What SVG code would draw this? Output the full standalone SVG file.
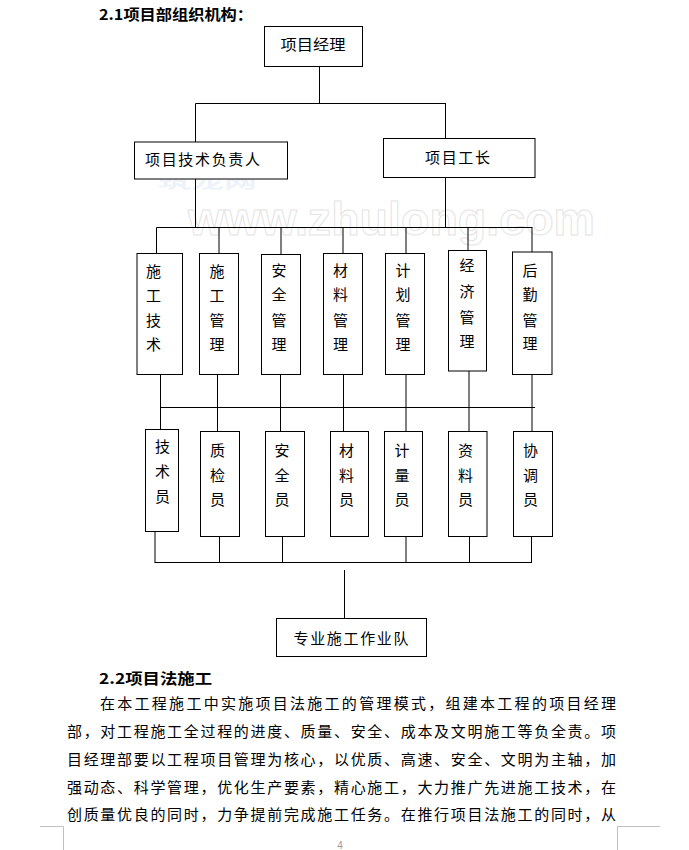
<svg xmlns="http://www.w3.org/2000/svg" width="689" height="850" viewBox="0 0 689 850">
<style>
  .bg { fill: #ffffff; }
  .box { fill: #ffffff; stroke: #000000; stroke-width: 1; }
  .ln { stroke: #000000; stroke-width: 1; fill: none; }
  .t { font-family: "Noto Sans CJK SC", "Liberation Sans", sans-serif; font-size: 15px; fill: #000000; }
  .c { text-anchor: middle; dominant-baseline: central; }
  .h { font-family: "Noto Sans CJK SC", "Liberation Sans", sans-serif; font-size: 15px; font-weight: bold; fill: #000000; dominant-baseline: central; }
  .p { font-family: "Noto Sans CJK SC", "Liberation Sans", sans-serif; font-size: 15px; fill: #000000; dominant-baseline: central; }
  .wm1 { font-family: "Liberation Sans", sans-serif; font-size: 46px; font-weight: bold; fill: #ffffff; stroke: #e4e4e4; stroke-width: 1; }
  .wm2 { font-family: "Noto Sans CJK SC", sans-serif; font-size: 16px; font-weight: bold; fill: #eef3f9; }
  .mark { stroke: #c0c0c0; stroke-width: 1; fill: none; }
</style>
<rect class="bg" x="0" y="0" width="689" height="850"/>

<g id="watermark">
  <text class="wm2" x="158" y="188" textLength="99" lengthAdjust="spacingAndGlyphs">筑龙网</text>
  <text class="wm1" x="188" y="235" textLength="407" lengthAdjust="spacingAndGlyphs">www.zhulong.com</text>
</g>

<g id="heading1">
  <text class="h" x="99" y="13" textLength="154" lengthAdjust="spacingAndGlyphs">2.1项目部组织机构：</text>
</g>

<g id="connectors">
  <line class="ln" x1="319.5" y1="66" x2="319.5" y2="103.5"/>
  <line class="ln" x1="195.5" y1="103.5" x2="446" y2="103.5"/>
  <line class="ln" x1="195.5" y1="103.5" x2="195.5" y2="142"/>
  <line class="ln" x1="445.5" y1="103.5" x2="445.5" y2="138"/>
  <line class="ln" x1="195.5" y1="179" x2="195.5" y2="227.5"/>
  <line class="ln" x1="445.5" y1="177" x2="445.5" y2="227.5"/>
  <line class="ln" x1="156.5" y1="227.5" x2="532.5" y2="227.5"/>
  <line class="ln" x1="156.5" y1="227.5" x2="156.5" y2="253"/>
  <line class="ln" x1="219" y1="227.5" x2="219" y2="253"/>
  <line class="ln" x1="281" y1="227.5" x2="281" y2="254"/>
  <line class="ln" x1="343" y1="227.5" x2="343" y2="253"/>
  <line class="ln" x1="406" y1="227.5" x2="406" y2="253"/>
  <line class="ln" x1="468" y1="227.5" x2="468" y2="250"/>
  <line class="ln" x1="532" y1="227.5" x2="532" y2="252"/>
  <line class="ln" x1="160.5" y1="374" x2="160.5" y2="429"/>
  <line class="ln" x1="217.5" y1="374" x2="217.5" y2="432"/>
  <line class="ln" x1="280.5" y1="374" x2="280.5" y2="432"/>
  <line class="ln" x1="343.5" y1="374" x2="343.5" y2="432"/>
  <line class="ln" x1="406" y1="374" x2="406" y2="432"/>
  <line class="ln" x1="469" y1="371" x2="469" y2="432"/>
  <line class="ln" x1="532" y1="374" x2="532" y2="432"/>
  <line class="ln" x1="160.5" y1="407.5" x2="535" y2="407.5"/>
  <line class="ln" x1="155" y1="531" x2="155" y2="562.5"/>
  <line class="ln" x1="219.5" y1="536" x2="219.5" y2="562.5"/>
  <line class="ln" x1="282.5" y1="536" x2="282.5" y2="562.5"/>
  <line class="ln" x1="406" y1="536" x2="406" y2="562.5"/>
  <line class="ln" x1="469.5" y1="536" x2="469.5" y2="562.5"/>
  <line class="ln" x1="531.5" y1="536" x2="531.5" y2="562.5"/>
  <line class="ln" x1="154.5" y1="562.5" x2="532" y2="562.5"/>
  <line class="ln" x1="344.5" y1="570" x2="344.5" y2="618"/>
</g>

<g id="n-manager">
  <rect class="box" x="264.5" y="26.5" width="98" height="40"/>
  <text class="t c" x="313" y="43.5" textLength="65" lengthAdjust="spacingAndGlyphs">项目经理</text>
</g>
<g id="n-tech-lead">
  <rect class="box" x="134.5" y="142" width="153" height="37"/>
  <text class="t c" x="202.5" y="158.5" textLength="115" lengthAdjust="spacing">项目技术负责人</text>
</g>
<g id="n-foreman">
  <rect class="box" x="383.5" y="138.5" width="151.5" height="39"/>
  <text class="t c" x="457.5" y="156" textLength="65" lengthAdjust="spacing">项目工长</text>
</g>

<g id="n-sg-tech">
  <rect class="box" x="137" y="253.5" width="45.5" height="121"/>
  <text class="t c"><tspan x="153.5" y="269.5">施</tspan><tspan x="153.5" y="293.5">工</tspan><tspan x="153.5" y="319">技</tspan><tspan x="153.5" y="343">术</tspan></text>
</g>
<g id="n-sg-mgmt">
  <rect class="box" x="199.5" y="253.5" width="39" height="121"/>
  <text class="t c"><tspan x="217" y="269.5">施</tspan><tspan x="217" y="293.5">工</tspan><tspan x="217" y="319">管</tspan><tspan x="217" y="343">理</tspan></text>
</g>
<g id="n-safety-mgmt">
  <rect class="box" x="261.5" y="254.5" width="39" height="120"/>
  <text class="t c"><tspan x="279" y="268.5">安</tspan><tspan x="279" y="293">全</tspan><tspan x="279" y="319">管</tspan><tspan x="279" y="343">理</tspan></text>
</g>
<g id="n-material-mgmt">
  <rect class="box" x="323.5" y="253.5" width="39" height="121"/>
  <text class="t c"><tspan x="340.5" y="269">材</tspan><tspan x="340.5" y="293">料</tspan><tspan x="340.5" y="319">管</tspan><tspan x="340.5" y="343">理</tspan></text>
</g>
<g id="n-plan-mgmt">
  <rect class="box" x="385.5" y="253.5" width="39" height="121"/>
  <text class="t c"><tspan x="403" y="269">计</tspan><tspan x="403" y="293">划</tspan><tspan x="403" y="319">管</tspan><tspan x="403" y="343">理</tspan></text>
</g>
<g id="n-econ-mgmt">
  <rect class="box" x="448.5" y="250.5" width="38" height="120.5"/>
  <text class="t c"><tspan x="467" y="263.5">经</tspan><tspan x="467" y="290">济</tspan><tspan x="467" y="316">管</tspan><tspan x="467" y="340">理</tspan></text>
</g>
<g id="n-logistics-mgmt">
  <rect class="box" x="512.5" y="252" width="39.5" height="122.5"/>
  <text class="t c"><tspan x="530" y="269">后</tspan><tspan x="530" y="292.5">勤</tspan><tspan x="530" y="318.5">管</tspan><tspan x="530" y="342">理</tspan></text>
</g>

<g id="n-technician">
  <rect class="box" x="145.5" y="429.5" width="33" height="102"/>
  <text class="t c"><tspan x="162.5" y="445">技</tspan><tspan x="162.5" y="469.5">术</tspan><tspan x="162.5" y="495">员</tspan></text>
</g>
<g id="n-qc">
  <rect class="box" x="200.5" y="431.5" width="39" height="105"/>
  <text class="t c"><tspan x="217.5" y="448.5">质</tspan><tspan x="217.5" y="473.5">检</tspan><tspan x="217.5" y="497.5">员</tspan></text>
</g>
<g id="n-safety">
  <rect class="box" x="265.5" y="431.5" width="39" height="105"/>
  <text class="t c"><tspan x="282" y="448.5">安</tspan><tspan x="282" y="473.5">全</tspan><tspan x="282" y="497.5">员</tspan></text>
</g>
<g id="n-material">
  <rect class="box" x="330.5" y="431.5" width="38" height="105"/>
  <text class="t c"><tspan x="346.5" y="448.5">材</tspan><tspan x="346.5" y="473.5">料</tspan><tspan x="346.5" y="497.5">员</tspan></text>
</g>
<g id="n-metering">
  <rect class="box" x="384.5" y="431.5" width="38" height="105"/>
  <text class="t c"><tspan x="402" y="448.5">计</tspan><tspan x="402" y="473.5">量</tspan><tspan x="402" y="497.5">员</tspan></text>
</g>
<g id="n-docs">
  <rect class="box" x="448.5" y="431.5" width="38.5" height="105"/>
  <text class="t c"><tspan x="465.5" y="448.5">资</tspan><tspan x="465.5" y="473.5">料</tspan><tspan x="465.5" y="497.5">员</tspan></text>
</g>
<g id="n-coord">
  <rect class="box" x="513.5" y="431.5" width="39" height="105"/>
  <text class="t c"><tspan x="530.5" y="448.5">协</tspan><tspan x="530.5" y="473.5">调</tspan><tspan x="530.5" y="497.5">员</tspan></text>
</g>

<g id="n-team">
  <rect class="box" x="276.5" y="618.5" width="150" height="38"/>
  <text class="t c" x="351" y="637.5" textLength="115" lengthAdjust="spacing">专业施工作业队</text>
</g>

<g id="section2">
  <text class="h" x="99" y="677" textLength="113" lengthAdjust="spacingAndGlyphs">2.2项目法施工</text>
  <text class="p" x="100" y="702" textLength="516" lengthAdjust="spacing">在本工程施工中实施项目法施工的管理模式，组建本工程的项目经理</text>
  <text class="p" x="67" y="730" textLength="549" lengthAdjust="spacing">部，对工程施工全过程的进度、质量、安全、成本及文明施工等负全责。项</text>
  <text class="p" x="67" y="758" textLength="549" lengthAdjust="spacing">目经理部要以工程项目管理为核心，以优质、高速、安全、文明为主轴，加</text>
  <text class="p" x="67" y="786" textLength="549" lengthAdjust="spacing">强动态、科学管理，优化生产要素，精心施工，大力推广先进施工技术，在</text>
  <text class="p" x="67" y="813.5" textLength="549" lengthAdjust="spacing">创质量优良的同时，力争提前完成施工任务。在推行项目法施工的同时，从</text>
</g>

<g id="page-marks">
  <polyline class="mark" points="40,826.5 63.5,826.5 63.5,850"/>
  <polyline class="mark" points="660,826.5 617.5,826.5 617.5,850"/>
  <text x="340" y="845" text-anchor="middle" dominant-baseline="central" font-family="Liberation Sans, sans-serif" font-size="10" fill="#9a9a9a">4</text>
</g>
</svg>
